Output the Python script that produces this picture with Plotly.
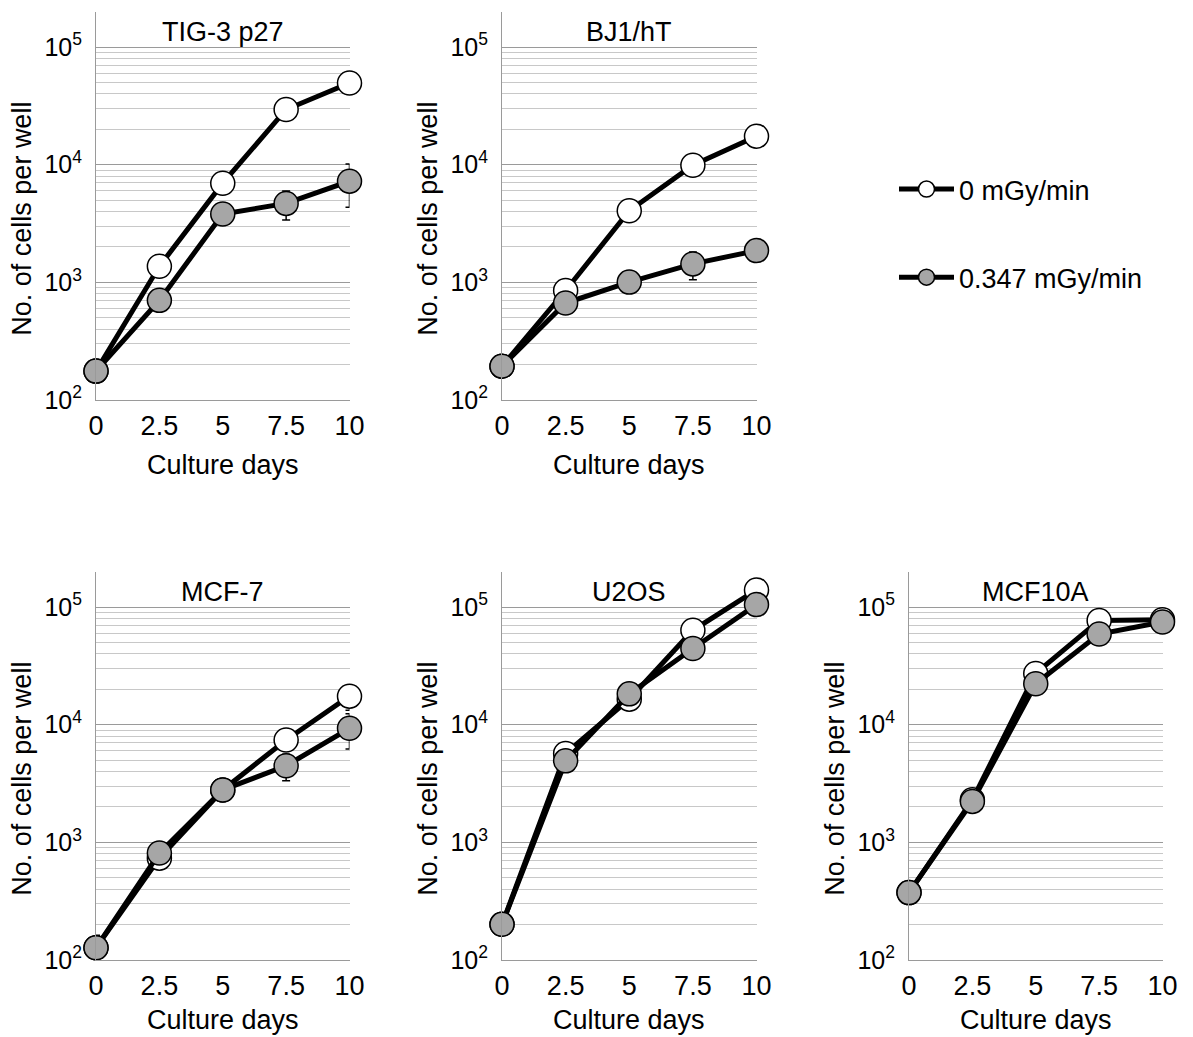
import math
import plotly.graph_objects as go

# ---------------- data ----------------
days = [0, 2.5, 5, 7.5, 10]
day_labels = ["0", "2.5", "5", "7.5", "10"]
panel_titles = ["TIG-3 p27", "BJ1/hT", "MCF-7", "U2OS", "MCF10A"]
series_names = ["0 mGy/min", "0.347 mGy/min"]

tig_ctrl = [176, 1370, 6970, 29500, 49500]
tig_ctrl_sd = [0, 0, 0, 0, 0]
tig_irr = [176, 703, 3810, 4690, 7250]
tig_irr_sd = [0, 0, 0, 1300, 2900]

bj_ctrl = [194, 853, 4060, 9910, 17500]
bj_ctrl_sd = [0, 0, 0, 0, 0]
bj_irr = [194, 667, 1005, 1435, 1862]
bj_irr_sd = [0, 0, 0, 380, 0]

mcf7_ctrl = [127, 734, 2790, 7430, 17500]
mcf7_ctrl_sd = [35, 0, 0, 0, 4200]
mcf7_irr = [127, 811, 2790, 4480, 9330]
mcf7_irr_sd = [0, 0, 500, 1140, 3100]

u2os_ctrl = [201, 5690, 16500, 63500, 140000]
u2os_ctrl_sd = [0, 0, 0, 0, 0]
u2os_irr = [201, 4930, 18300, 44500, 105000]
u2os_irr_sd = [0, 0, 0, 0, 0]

mcf10a_ctrl = [374, 2300, 27300, 77100, 78000]
mcf10a_ctrl_sd = [0, 0, 0, 0, 0]
mcf10a_irr = [374, 2230, 22300, 59000, 74600]
mcf10a_irr_sd = [0, 0, 0, 0, 0]

y_tick_vals = [1e2, 1e3, 1e4, 1e5]
y_tick_text = ["10<sup>2</sup>", "10<sup>3</sup>", "10<sup>4</sup>", "10<sup>5</sup>"]
y_max = 2e5

# ---------------- layout geometry ----------------
# page body has an 8px margin; figure is offset by it inside the window
OFF = 8
W, H = 1193 - OFF, 1037 - OFF
FONT = "Liberation Sans, Arial, sans-serif"
col_px = [(96, 349.5), (502, 756.5), (909, 1162.5)]
row_px = [(11.7, 400), (571.7, 960)]
xtitle_gap = [65, 60]
panel_pos = [(0, 0), (0, 1), (1, 0), (1, 1), (1, 2)]  # (row, col)


def px_x(v):
    return (v - OFF) / W


def px_y(v):
    return 1 - (v - OFF) / H


ctrl_list = [tig_ctrl, bj_ctrl, mcf7_ctrl, u2os_ctrl, mcf10a_ctrl]
ctrl_sd_list = [tig_ctrl_sd, bj_ctrl_sd, mcf7_ctrl_sd, u2os_ctrl_sd, mcf10a_ctrl_sd]
irr_list = [tig_irr, bj_irr, mcf7_irr, u2os_irr, mcf10a_irr]
irr_sd_list = [tig_irr_sd, bj_irr_sd, mcf7_irr_sd, u2os_irr_sd, mcf10a_irr_sd]

minor_vals = [k * 10 ** d for d in (2, 3, 4) for k in range(2, 10)] + [y_max]

fig = go.Figure()
layout = dict(
    width=W, height=H, autosize=False,
    margin=dict(l=0, r=0, t=0, b=0, pad=0, autoexpand=False),
    paper_bgcolor="white", plot_bgcolor="white",
    font=dict(family=FONT, color="black", size=27),
    showlegend=True,
    legend=dict(
        x=px_x(894), y=px_y(165), xanchor="left", yanchor="top",
        font=dict(family=FONT, size=27, color="black"),
        tracegroupgap=50, bgcolor="rgba(0,0,0,0)", itemwidth=55,
    ),
)
annotations = []

for i in range(5):
    r, c = panel_pos[i]
    sfx = "" if i == 0 else str(i + 1)
    x0, x1 = col_px[c]
    yt, yb = row_px[r]
    layout["xaxis" + sfx] = dict(
        domain=[px_x(x0), px_x(x1)], anchor="y" + sfx, range=[0, 10], automargin=False,
        tickvals=days, ticktext=day_labels, showgrid=False, zeroline=False,
        showline=True, linecolor="#9a9a9a", linewidth=1, ticks="",
        tickfont=dict(size=27, family=FONT), ticklabelstandoff=2,
    )
    layout["yaxis" + sfx] = dict(
        domain=[px_y(yb), px_y(yt)], anchor="x" + sfx, type="log", automargin=False,
        range=[2, math.log10(y_max)],
        tickvals=y_tick_vals, ticktext=y_tick_text,
        showgrid=True, gridcolor="#9a9a9a", gridwidth=1, zeroline=False,
        showline=True, linecolor="#9a9a9a", linewidth=1, ticks="",
        tickfont=dict(size=25, family=FONT), ticklabelstandoff=8,
        minor=dict(tickvals=minor_vals, showgrid=True, gridcolor="#c8c8c8",
                   gridwidth=1, ticks=""),
    )
    xc = (x0 + x1) / 2
    annotations.append(dict(text=panel_titles[i], x=px_x(xc), y=px_y(yt + 20),
                            xref="paper", yref="paper", showarrow=False,
                            xanchor="center", yanchor="middle",
                            font=dict(size=27, family=FONT)))
    annotations.append(dict(text="Culture days", x=px_x(xc), y=px_y(yb + xtitle_gap[r]),
                            xref="paper", yref="paper", showarrow=False,
                            xanchor="center", yanchor="middle",
                            font=dict(size=27, family=FONT)))
    annotations.append(dict(text="No. of cells per well", x=px_x(x0 - 74),
                            y=px_y(yt + 207), textangle=-90,
                            xref="paper", yref="paper", showarrow=False,
                            xanchor="center", yanchor="middle",
                            font=dict(size=27, family=FONT)))

    for j, (vals, sds, fill) in enumerate([(ctrl_list[i], ctrl_sd_list[i], "white"),
                                           (irr_list[i], irr_sd_list[i], "#a6a6a6")]):
        fig.add_trace(go.Scatter(
            x=days, y=vals, xaxis="x" + sfx, yaxis="y" + sfx,
            mode="lines+markers", name=series_names[j],
            legendgroup=series_names[j], showlegend=(i == 0),
            line=dict(color="black", width=5),
            marker=dict(size=24, color=fill, line=dict(color="black", width=1.5)),
            error_y=dict(type="data", array=sds, visible=True, color="black",
                         thickness=1.5, width=4),
            cliponaxis=False,
        ))

layout["annotations"] = annotations
fig.update_layout(**layout)
fig.write_html("out.html")
